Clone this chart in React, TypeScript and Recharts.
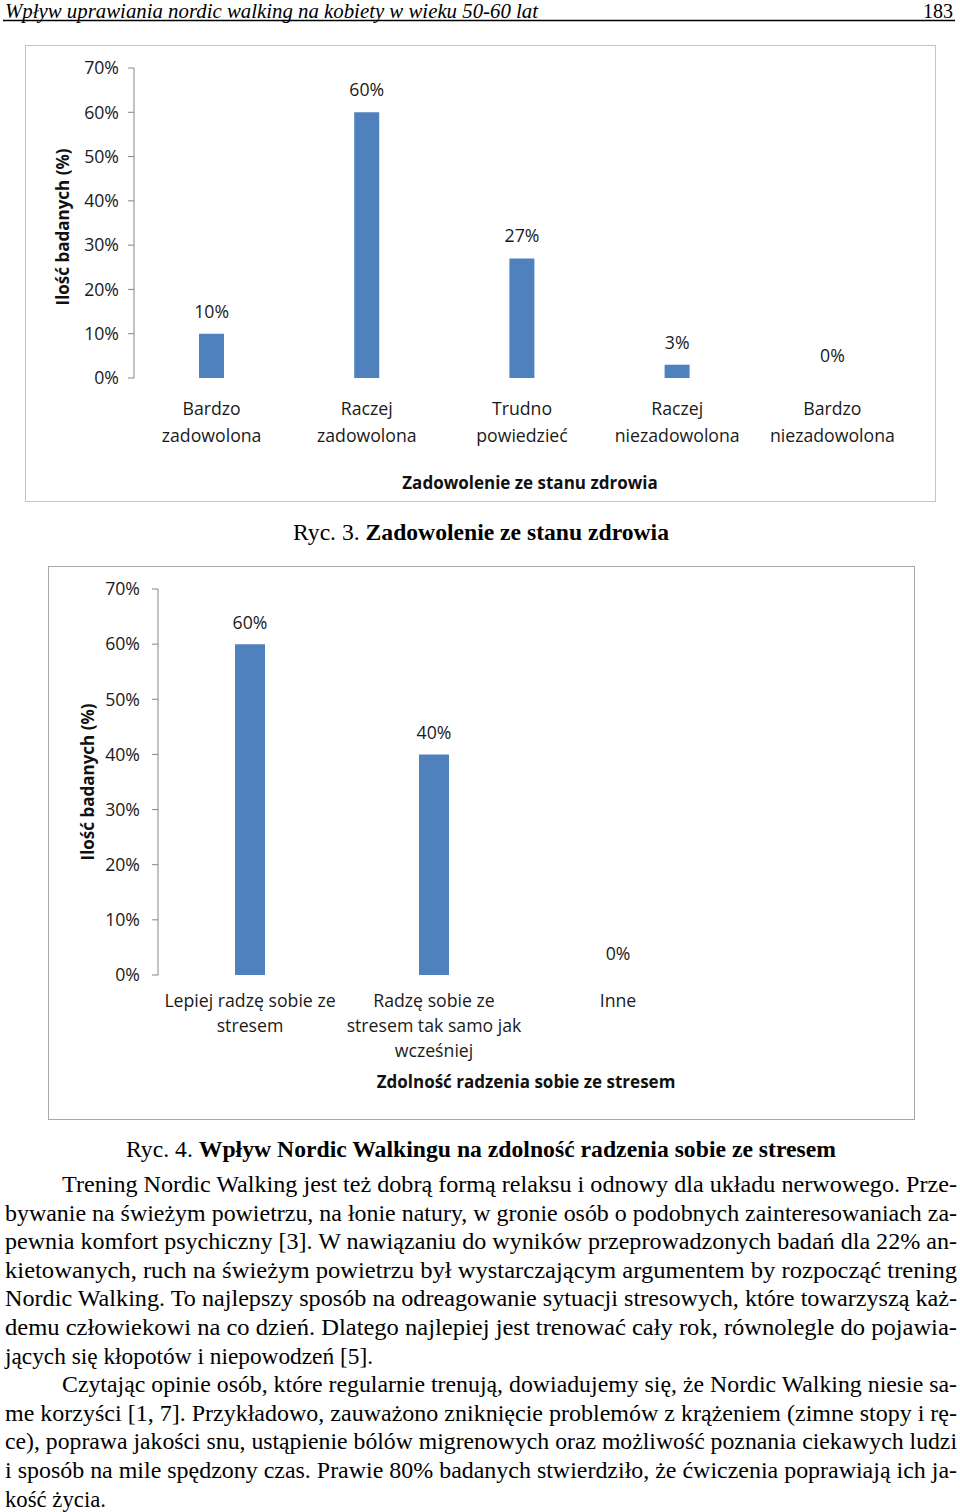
import { ComposedChart, Bar, Line, XAxis, YAxis, LabelList, Label } from "recharts"

// --- chart values ---
const healthCategories = [
  "Bardzo\nzadowolona",
  "Raczej\nzadowolona",
  "Trudno\npowiedzieć",
  "Raczej\nniezadowolona",
  "Bardzo\nniezadowolona",
]
const healthValues = [10, 60, 27, 3, 0]

const stressCategories = [
  "Lepiej radzę sobie ze\nstresem",
  "Radzę sobie ze\nstresem tak samo jak\nwcześniej",
  "Inne",
  "",
]
const stressValues: (number | null)[] = [60, 40, 0, null]

const percentTicks = [0, 10, 20, 30, 40, 50, 60, 70]

// --- page text ---
const headerTitle = "Wpływ uprawiania nordic walking na kobiety w wieku 50-60 lat"
const pageNumber = "183"

const bodyLines = [
  "Trening Nordic Walking jest też dobrą formą relaksu i odnowy dla układu nerwowego. Prze-",
  "bywanie na świeżym powietrzu, na łonie natury, w gronie osób o podobnych zainteresowaniach za-",
  "pewnia komfort psychiczny [3]. W nawiązaniu do wyników przeprowadzonych badań dla 22% an-",
  "kietowanych, ruch na świeżym powietrzu był wystarczającym argumentem by rozpocząć trening",
  "Nordic Walking. To najlepszy sposób na odreagowanie sytuacji stresowych, które towarzyszą każ-",
  "demu człowiekowi na co dzień. Dlatego najlepiej jest trenować cały rok, równolegle do pojawia-",
  "jących się kłopotów i niepowodzeń [5].",
  "Czytając opinie osób, które regularnie trenują, dowiadujemy się, że Nordic Walking niesie sa-",
  "me korzyści [1, 7]. Przykładowo, zauważono zniknięcie problemów z krążeniem (zimne stopy i rę-",
  "ce), poprawa jakości snu, ustąpienie bólów migrenowych oraz możliwość poznania ciekawych ludzi",
  "i sposób na mile spędzony czas. Prawie 80% badanych stwierdziło, że ćwiczenia poprawiają ich ja-",
  "kość życia.",
]
const indentedLines = [0, 7]
const lineEnds = [957, 957, 957, 957, 957, 957, 373, 957, 957, 957, 957, 106]

const healthData = healthCategories.map((name, i) => ({ name, value: healthValues[i] }))
const stressData = stressCategories.map((name, i) => ({ name, value: stressValues[i] }))

const CHART_FONT = "'Open Sans', 'Noto Sans', sans-serif"
const SERIF = "'Liberation Serif', 'DejaVu Serif', serif"
const AXIS_GREY = "#868686"
const BAR_BLUE = "#4f81bd"
const TEXT_SIZE = 17.7

const CategoryTick = ({ x, y, payload, firstDy, lineGap }: any) => {
  const lines = String(payload.value).split("\n")
  return (
    <text x={x} y={y} textAnchor="middle" fontSize={TEXT_SIZE} fontFamily={CHART_FONT} fill="#1a1a1a">
      {lines.map((line, i) => (
        <tspan key={i} x={x} dy={i === 0 ? firstDy : lineGap}>
          {line}
        </tspan>
      ))}
    </text>
  )
}

interface PercentChartProps {
  data: { name: string; value: number | null }[]
  width: number
  height: number
  marginTop: number
  marginRight: number
  yAxisWidth: number
  xAxisHeight: number
  tickMargin: number
  barSize: number
  labelOffset: number
  firstDy: number
  lineGap: number
  yTitleX: number
  yTitleShift: number
  xTitleDy: number
  xTitleShift: number
  xTitle: string
}

function PercentChart(p: PercentChartProps) {
  const edges = p.data.map((_, i) => i).concat(p.data.length)
  return (
    <ComposedChart
      width={p.width}
      height={p.height}
      data={p.data}
      margin={{ top: p.marginTop, right: p.marginRight, left: 0, bottom: 0 }}
    >
      <XAxis
        xAxisId="edge"
        type="number"
        domain={[0, p.data.length]}
        ticks={edges}
        interval={0}
        allowDataOverflow
        height={0}
        tickSize={6}
        stroke={AXIS_GREY}
        tick={() => <g />}
      />
      <XAxis
        xAxisId="cat"
        dataKey="name"
        type="category"
        interval={0}
        height={p.xAxisHeight}
        axisLine={false}
        tickLine={false}
        tickSize={0}
        tickMargin={0}
        tick={(t: any) => <CategoryTick {...t} firstDy={p.firstDy} lineGap={p.lineGap} />}
      >
        <Label
          content={({ viewBox }: any) => (
            <text
              x={viewBox.x + viewBox.width / 2 + p.xTitleShift}
              y={viewBox.y + p.xTitleDy}
              textAnchor="middle"
              fontSize={17}
              fontWeight="bold"
              fontFamily={CHART_FONT}
              fill="#111"
            >
              {p.xTitle}
            </text>
          )}
        />
      </XAxis>
      <YAxis
        width={p.yAxisWidth}
        domain={[0, 70]}
        ticks={percentTicks}
        interval={0}
        tickFormatter={(v) => `${v}%`}
        tickSize={6}
        tickMargin={p.tickMargin}
        stroke={AXIS_GREY}
        tick={{ fill: "#1a1a1a", fontSize: TEXT_SIZE, fontFamily: CHART_FONT }}
      >
        <Label
          content={({ viewBox }: any) => {
            const cx = viewBox.x + p.yTitleX
            const cy = viewBox.y + viewBox.height / 2 + p.yTitleShift
            return (
              <text
                x={cx}
                y={cy}
                transform={`rotate(-90 ${cx} ${cy})`}
                textAnchor="middle"
                dominantBaseline="central"
                fontSize={17}
                fontWeight="bold"
                fontFamily={CHART_FONT}
                fill="#111"
              >
                Ilość badanych (%)
              </text>
            )
          }}
        />
      </YAxis>
      <Bar xAxisId="cat" dataKey="value" fill={BAR_BLUE} barSize={p.barSize} isAnimationActive={false} />
      {/* invisible line carries the value labels, so zero values get one too */}
      <Line
        xAxisId="cat"
        dataKey="value"
        stroke="none"
        dot={false}
        activeDot={false}
        legendType="none"
        isAnimationActive={false}
      >
        <LabelList
          dataKey="value"
          position="top"
          offset={p.labelOffset}
          formatter={(v: any) => (v == null ? "" : `${v}%`)}
          fill="#1a1a1a"
          fontSize={TEXT_SIZE}
          fontFamily={CHART_FONT}
        />
      </Line>
    </ComposedChart>
  )
}

export default function App() {
  const lineY = 1192
  return (
    <div style={{ position: "absolute", left: 0, top: 0, width: 960, height: 1512, background: "#fff", overflow: "hidden" }}>
      <svg width={960} height={1512} style={{ position: "absolute", left: 0, top: 0 }}>
        <text x={5} y={18} fontFamily={SERIF} fontStyle="italic" fontSize={20} textLength={533} lengthAdjust="spacingAndGlyphs" fill="#000">
          {headerTitle}
        </text>
        <text x={953} y={18} textAnchor="end" fontFamily={SERIF} fontSize={20} fill="#000">
          {pageNumber}
        </text>
        <line x1={3} x2={955} y1={20.5} y2={20.5} stroke="#000" strokeWidth={1.5} />

        <text x={293} y={540} fontFamily={SERIF} fontSize={23} textLength={376} lengthAdjust="spacingAndGlyphs" fill="#000">
          Ryc. 3. <tspan fontWeight="bold">Zadowolenie ze stanu zdrowia</tspan>
        </text>
        <text x={126} y={1157} fontFamily={SERIF} fontSize={23} textLength={710} lengthAdjust="spacingAndGlyphs" fill="#000">
          Ryc. 4. <tspan fontWeight="bold">Wpływ Nordic Walkingu na zdolność radzenia sobie ze stresem</tspan>
        </text>

        {bodyLines.map((line, i) => {
          const x = indentedLines.includes(i) ? 62 : 5
          const y = lineY + i * 28.6
          return (
            <text
              key={i}
              x={x}
              y={y}
              fontFamily={SERIF}
              fontSize={23}
              textLength={lineEnds[i] - x}
              lengthAdjust="spacingAndGlyphs"
              fill="#000"
            >
              {line}
            </text>
          )
        })}
      </svg>

      <div style={{ position: "absolute", left: 25, top: 45, width: 911, height: 457, border: "1px solid #c4c4c4", boxSizing: "border-box", background: "#fff" }}>
        <PercentChart
          data={healthData}
          width={909}
          height={455}
          marginTop={22}
          marginRight={25}
          yAxisWidth={108}
          xAxisHeight={123}
          tickMargin={9}
          barSize={25}
          labelOffset={16}
          firstDy={37}
          lineGap={27}
          yTitleX={36}
          yTitleShift={4}
          xTitleDy={111}
          xTitleShift={8}
          xTitle="Zadowolenie ze stanu zdrowia"
        />
      </div>

      <div style={{ position: "absolute", left: 48, top: 566, width: 867, height: 554, border: "1px solid #a8a8a8", boxSizing: "border-box", background: "#fff" }}>
        <PercentChart
          data={stressData}
          width={865}
          height={552}
          marginTop={22}
          marginRight={20}
          yAxisWidth={109}
          xAxisHeight={144}
          tickMargin={12}
          barSize={30}
          labelOffset={15}
          firstDy={32}
          lineGap={25}
          yTitleX={38}
          yTitleShift={0}
          xTitleDy={113}
          xTitleShift={0}
          xTitle="Zdolność radzenia sobie ze stresem"
        />
      </div>
    </div>
  )
}
